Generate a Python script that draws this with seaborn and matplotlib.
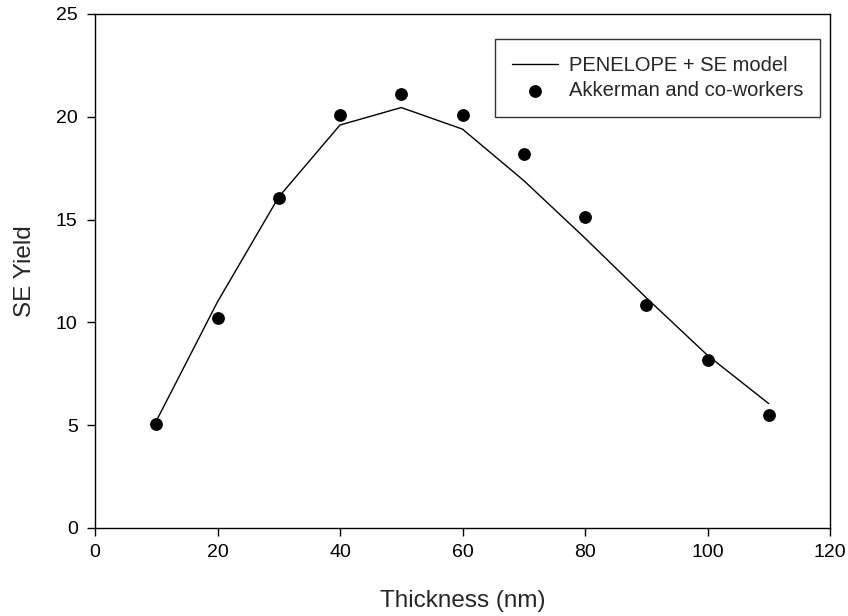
import matplotlib
matplotlib.use("Agg")
import matplotlib.pyplot as plt
import seaborn as sns
import pandas as pd

thickness = [10, 20, 30, 40, 50, 60, 70, 80, 90, 100, 110]
model_yield = [5.2, 11.0, 16.1, 19.6, 20.45, 19.4, 16.9, 14.1, 11.2, 8.4, 6.05]
exp_yield = [5.05, 10.2, 16.07, 20.08, 21.12, 20.08, 18.17, 15.15, 10.83, 8.18, 5.5]

sns.set_style("ticks")
plt.rcParams['font.family'] = ['Liberation Sans', 'DejaVu Sans']

W, H = 848, 616
L, R, T, B = 95, 830, 14, 528
fig = plt.figure(figsize=(W/100, H/100), dpi=100)
ax = fig.add_axes([L/W, 1-B/H, (R-L)/W, (B-T)/H])

df_model = pd.DataFrame({"x": thickness, "y": model_yield})
df_exp = pd.DataFrame({"x": thickness, "y": exp_yield})

sns.lineplot(data=df_model, x="x", y="y", ax=ax, color="black", linewidth=1.0,
             label="PENELOPE + SE model")
sns.scatterplot(data=df_exp, x="x", y="y", ax=ax, color="black", s=85,
                edgecolor="black", linewidth=0, label="Akkerman and co-workers")

ax.set_xlim(0, 120)
ax.set_ylim(0, 25)
ax.set_xticks([0, 20, 40, 60, 80, 100, 120])
ax.set_yticks([0, 5, 10, 15, 20, 25])
ax.tick_params(axis='both', direction='out', length=5.5, width=1, labelsize=14,
               color='black', labelcolor='black')
ax.tick_params(axis='x', pad=6)
ax.tick_params(axis='y', pad=7)
for s in ax.spines.values():
    s.set_visible(True)
    s.set_color('black')
    s.set_linewidth(1.0)

ax.set_xlabel("Thickness (nm)", fontsize=17.5, labelpad=21)
ax.set_ylabel("SE Yield", fontsize=17.5, labelpad=14.5)

leg = ax.legend(loc="upper left", frameon=True,
                fontsize=14.5, handlelength=2.3, borderpad=0.85, labelspacing=0.3,
                handletextpad=0.5, fancybox=False, borderaxespad=0)
leg.get_frame().set_edgecolor("black")
leg.get_frame().set_linewidth(1.0)
leg.set_bbox_to_anchor(((495-L)/(R-L), 1-(39-T)/(B-T)), transform=ax.transAxes)

fig.savefig("out.png", dpi=100)
